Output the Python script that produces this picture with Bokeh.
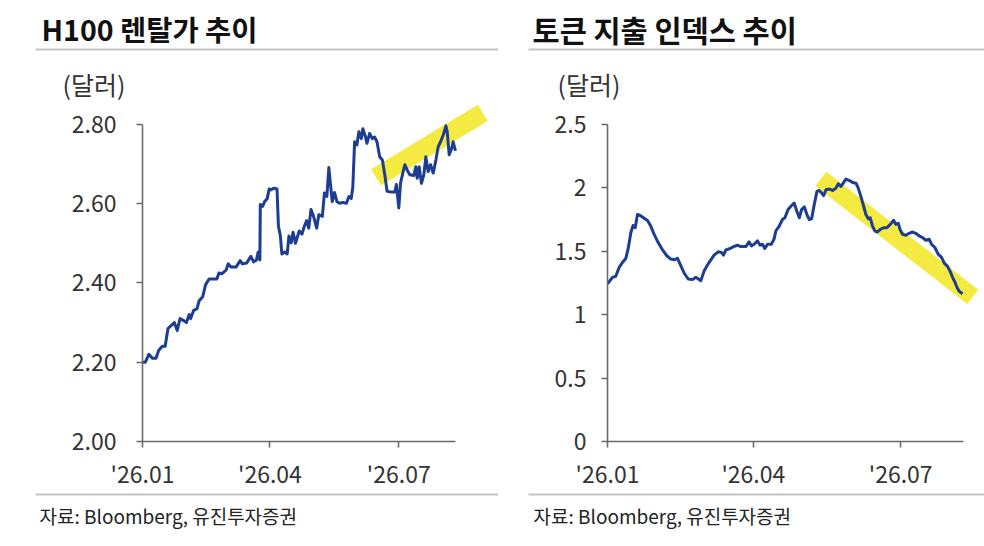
import pandas as pd
from bokeh.plotting import figure
from bokeh.layouts import row, column
from bokeh.models import Range1d, FixedTicker, DatetimeTickFormatter, NumeralTickFormatter
from bokeh.core.properties import value
from bokeh.embed import file_html
from bokeh.resources import INLINE

# ---------------- data ----------------
BASE = "2026-01-01"

# H100 rental price (USD), x = days since 2026-01-01
h100_day = [0, 2, 4.5, 7, 9.5, 11.5, 14, 16, 18, 21, 22.5, 24.5, 26.5, 29, 31, 33, 34, 36, 38.5, 40,
            42.5, 44.5, 47, 49.5, 52.5, 54, 56, 59, 60.5, 62.5, 66, 69, 70.5, 73.5, 76.5, 78.5, 80.5,
            81.7, 82.9, 83.2, 84.8, 86.4, 88, 89.5, 91, 92.6, 95, 96, 97.4, 98.4, 100.3, 102.2, 103.4,
            105, 106.3, 108, 110.7, 112.6, 114.3, 115.9, 117.4, 119, 120.7, 123, 124.5, 127, 128.5,
            130.2, 131.6, 132.8, 134, 135.6, 137.3, 139.2, 141.5, 144, 145.8, 147.4, 148.5, 149.8,
            151.4, 152.8, 154.5, 155.6, 157.5, 158.5, 160.4, 162.3, 163.9, 165.6, 167.5, 169.4, 171.1,
            172.7, 175.8, 178.2, 179.3, 181, 182.2, 184.1, 185.3, 186.9, 188.8, 191.6, 193, 194, 195.4,
            197, 198.7, 200.1, 201.7, 203.4, 205.3, 207.2, 208.8, 210.5, 212.4, 214.3, 215.2, 216.6,
            218.3, 219.4, 221]
h100_price = [2.20, 2.20, 2.22, 2.21, 2.21, 2.23, 2.24, 2.24, 2.285, 2.295, 2.30, 2.28, 2.31, 2.305,
              2.30, 2.32, 2.31, 2.33, 2.335, 2.355, 2.365, 2.395, 2.41, 2.41, 2.41, 2.425, 2.423, 2.432,
              2.448, 2.44, 2.44, 2.456, 2.448, 2.45, 2.467, 2.453, 2.458, 2.478, 2.458, 2.598, 2.593,
              2.606, 2.612, 2.637, 2.635, 2.639, 2.637, 2.543, 2.518, 2.473, 2.478, 2.473, 2.518, 2.501,
              2.528, 2.50, 2.531, 2.523, 2.543, 2.557, 2.538, 2.585, 2.569, 2.538, 2.572, 2.568, 2.627,
              2.618, 2.691, 2.647, 2.605, 2.628, 2.605, 2.601, 2.603, 2.601, 2.618, 2.613, 2.64, 2.756,
              2.748, 2.781, 2.764, 2.789, 2.768, 2.752, 2.777, 2.764, 2.768, 2.756, 2.718, 2.71, 2.673,
              2.631, 2.629, 2.629, 2.648, 2.589, 2.651, 2.681, 2.698, 2.685, 2.673, 2.671, 2.693, 2.664,
              2.693, 2.651, 2.673, 2.718, 2.681, 2.698, 2.677, 2.71, 2.743, 2.756, 2.773, 2.796, 2.781,
              2.723, 2.739, 2.756, 2.733]

# Token spending index (USD)
tok_day = [0, 3.1, 5.1, 7.2, 9.2, 11.3, 12.7, 14.4, 15.8, 17.1, 18.5, 20.2, 22.2, 24.7, 26.7, 28.8,
           31.3, 34, 36.6, 39.1, 41.2, 43.2, 45.3, 47.3, 49.8, 52.5, 54.5, 56.6, 57.6, 59.7, 61.7, 63.8,
           65.8, 68.3, 70.4, 71.6, 73.1, 75.7, 77.8, 80.2, 82.3, 85.4, 87.4, 88.9, 90.5, 92.6, 94.2,
           95.7, 97.1, 98.8, 101.2, 102.9, 103.9, 106, 108, 109.5, 111.5, 113.2, 115.2, 116.9, 118.4,
           119.8, 121.5, 123.1, 124.5, 126, 127.6, 129.3, 130.7, 132.2, 133.4, 134.9, 136.9, 139, 141,
           142.5, 144.1, 145.8, 147.2, 149.3, 151.3, 153.4, 154.8, 156.4, 158.1, 159.5, 161, 162.2,
           163.6, 165.1, 166.7, 168.4, 170.4, 172.5, 173.9, 175.4, 176.6, 178, 179.5, 180.7, 182.1,
           184.2, 186.2, 188.3, 190.3, 192.4, 194.5, 196.5, 198.6, 200, 202.1, 204.1, 206.2, 207.9,
           209.9, 211.6, 213, 214.5, 215.7, 217.2, 219.2]
tok_index = [1.242, 1.294, 1.302, 1.372, 1.411, 1.443, 1.516, 1.646, 1.703, 1.685, 1.789, 1.781, 1.763,
             1.742, 1.698, 1.633, 1.568, 1.51, 1.464, 1.438, 1.432, 1.443, 1.385, 1.328, 1.281, 1.276,
             1.294, 1.276, 1.268, 1.346, 1.391, 1.432, 1.469, 1.495, 1.49, 1.469, 1.51, 1.521, 1.536,
             1.547, 1.536, 1.536, 1.573, 1.542, 1.555, 1.581, 1.547, 1.555, 1.521, 1.555, 1.555, 1.599,
             1.659, 1.698, 1.75, 1.763, 1.828, 1.854, 1.88, 1.815, 1.763, 1.828, 1.849, 1.789, 1.75,
             1.755, 1.867, 1.971, 1.979, 1.958, 1.938, 1.984, 1.99, 1.979, 1.997, 2.031, 2.01, 2.042,
             2.068, 2.057, 2.042, 2.036, 1.997, 1.932, 1.854, 1.789, 1.755, 1.763, 1.698, 1.659, 1.651,
             1.672, 1.685, 1.685, 1.703, 1.724, 1.744, 1.711, 1.719, 1.667, 1.633, 1.625, 1.641, 1.651,
             1.641, 1.62, 1.607, 1.586, 1.594, 1.555, 1.529, 1.477, 1.451, 1.406, 1.38, 1.339, 1.294,
             1.255, 1.216, 1.182, 1.164]

# yellow highlight bands (start / end)
h100_band_day = [164.9, 240.3]
h100_band_val = [2.666, 2.829]
tok_band_day = [131.7, 225.5]
tok_band_val = [2.07, 1.14]

month_ticks = ["2026-01-01", "2026-04-01", "2026-07-01"]
h100_yticks = [2.0, 2.2, 2.4, 2.6, 2.8]
tok_yticks = [0, 0.5, 1, 1.5, 2, 2.5]

titles = ["H100 렌탈가 추이", "토큰 지출 인덱스 추이"]
unit_label = "(달러)"
source_label = "자료: Bloomberg, 유진투자증권"

# ---------------- helpers ----------------
base = pd.Timestamp(BASE)


def to_dates(days):
    return [base + pd.Timedelta(days=d) for d in days]


def ms(ts):
    return pd.Timestamp(ts).value // 10**6


FONT = "Noto Sans CJK KR"
LINE_COLOR = "#1c3d92"
BAND_COLOR = "#f4ea42"
AXIS_COLOR = "#6a6a6a"
TICK_COLOR = "#333333"
SEP_COLOR = "#c4c4c4"

LW, RW = 498, 486          # panel widths
HEAD_H, MAIN_H, FOOT_H = 102, 390, 52
FRAME_H = 444 - HEAD_H     # frame from top of main figure down to the x axis

fmt_keys = ["microseconds", "milliseconds", "seconds", "minsec", "minutes", "hourmin",
            "hours", "days", "months", "years"]


def blank_fig(width, height):
    p = figure(width=width, height=height, x_range=Range1d(0, width), y_range=Range1d(height, 0),
               output_backend="svg", toolbar_location=None,
               x_axis_location=None, y_axis_location=None,
               min_border_left=0, min_border_right=0, min_border_top=0, min_border_bottom=0)
    p.outline_line_color = None
    p.grid.visible = False
    p.border_fill_color = "white"
    p.background_fill_color = "white"
    return p


def add_text(p, x, y, text, size, bold=False, color="#333333"):
    p.text(x=[x], y=[y], text=[text], text_font=value(FONT), text_font_size=value(size),
           text_font_style="bold" if bold else "normal", text_color=color,
           text_baseline="middle", text_align="left")


def add_sep(p, x0, x1, y):
    p.segment(x0=[x0], y0=[y], x1=[x1], y1=[y], line_color=SEP_COLOR, line_width=2)


def main_fig(width, x_end_days, y_range, border_lr, ystand, yticks, yfmt, x_bound_days, y_bounds):
    p = figure(width=width, height=MAIN_H,
               x_range=Range1d(base, base + pd.Timedelta(days=x_end_days)),
               y_range=Range1d(*y_range), x_axis_type="datetime",
               output_backend="svg", toolbar_location=None,
               min_border_left=border_lr[0], min_border_right=border_lr[1],
               min_border_top=0, min_border_bottom=MAIN_H - FRAME_H)
    p.outline_line_color = None
    p.grid.visible = False
    p.background_fill_color = "white"
    p.border_fill_color = "white"
    for ax in (p.xaxis[0], p.yaxis[0]):
        ax.axis_line_color = AXIS_COLOR
        ax.axis_line_width = 1.6
        ax.major_tick_line_color = AXIS_COLOR
        ax.major_tick_line_width = 1.6
        ax.major_tick_out = 6
        ax.major_tick_in = 0
        ax.minor_tick_line_color = None
        ax.major_label_text_font = FONT
        ax.major_label_text_font_size = "23px"
        ax.major_label_text_color = TICK_COLOR
    p.xaxis[0].ticker = FixedTicker(ticks=[ms(t) for t in month_ticks])
    p.xaxis[0].formatter = DatetimeTickFormatter(**{k: "'%y.%m" for k in fmt_keys})
    p.xaxis[0].major_label_standoff = 8
    p.xaxis[0].bounds = (base, base + pd.Timedelta(days=x_bound_days))
    p.yaxis[0].ticker = FixedTicker(ticks=yticks)
    p.yaxis[0].formatter = NumeralTickFormatter(format=yfmt)
    p.yaxis[0].major_label_standoff = ystand
    p.yaxis[0].bounds = y_bounds
    return p


# ---------------- left: H100 ----------------
h1 = blank_fig(LW, HEAD_H)
add_text(h1, 41, 28, titles[0], "28.5px", bold=True, color="#111111")
add_sep(h1, 35, LW, 49)
add_text(h1, 62, 83, unit_label, "25px")

p1 = main_fig(LW, 250, (2.0, 2.0 + FRAME_H / 400), (142, 2), 20, h100_yticks, "0.00", 221,
              (2.0, 2.8))
p1.line(to_dates(h100_band_day), h100_band_val, line_width=19, line_color=BAND_COLOR,
        line_cap="butt")
p1.line(to_dates(h100_day), h100_price, line_width=3, line_color=LINE_COLOR, line_join="round")

f1 = blank_fig(LW, FOOT_H)
add_sep(f1, 35, LW, 2)
add_text(f1, 39, 23, source_label, "19px", color="#222222")

# ---------------- right: token index ----------------
h2 = blank_fig(RW, HEAD_H)
add_text(h2, 532 - LW, 28, titles[1], "29.5px", bold=True, color="#111111")
add_sep(h2, 528 - LW, RW, 49)
add_text(h2, 557 - LW, 83, unit_label, "25px")

p2 = main_fig(RW, 377 / 1.62, (0, FRAME_H / 128), (109, 0), 15, tok_yticks, "0.[0]", 220,
              (0, 2.5))
p2.line(to_dates(tok_band_day), tok_band_val, line_width=18, line_color=BAND_COLOR,
        line_cap="butt")
p2.line(to_dates(tok_day), tok_index, line_width=3, line_color=LINE_COLOR, line_join="round")

f2 = blank_fig(RW, FOOT_H)
add_sep(f2, 528 - LW, RW, 2)
add_text(f2, 533 - LW, 23, source_label, "19px", color="#222222")

layout = column(row(h1, h2), row(p1, p2), row(f1, f2))
open("out.html", "w").write(file_html(layout, INLINE))
